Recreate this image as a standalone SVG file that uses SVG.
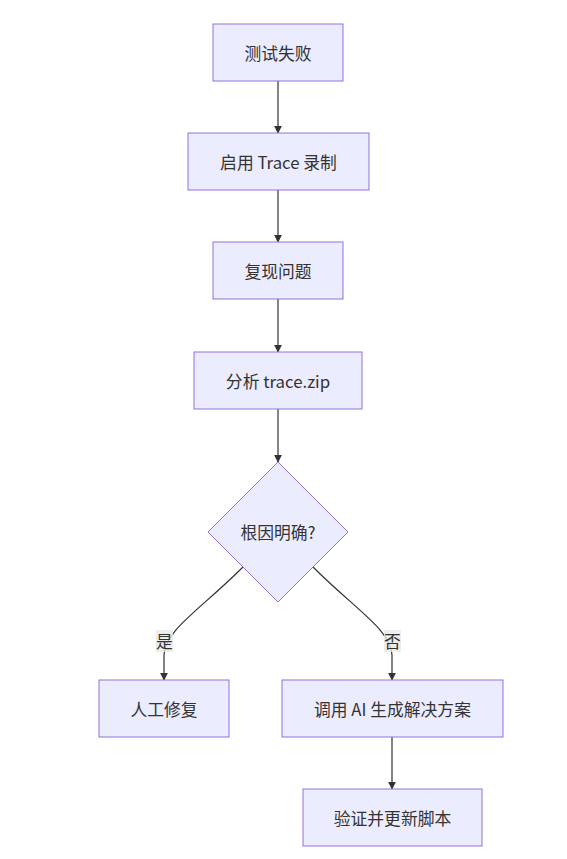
<svg xmlns="http://www.w3.org/2000/svg" width="567" height="859" viewBox="0 0 567 859">
<style>
.node rect,.node polygon{fill:#ECECFF;stroke:#9370DB;stroke-width:1}
.node text,.lbl text{font-family:"Noto Sans CJK SC","Liberation Sans",sans-serif;font-size:16.8px;fill:#333;text-anchor:middle;dominant-baseline:central}
.edge{fill:none;stroke:#333;stroke-width:1.2}
.lbl rect{fill:#e8e8e8;opacity:0.8}
</style>
<defs>
<marker id="arr" viewBox="0 0 10 10" refX="9" refY="5" markerWidth="8" markerHeight="8" markerUnits="userSpaceOnUse" orient="auto">
<path d="M0,0 L10,5 L0,10 z" fill="#333"/>
</marker>
</defs>
<rect width="567" height="859" fill="#fff"/>
<g id="connectors">
<path class="edge" d="M278,81 L278,133" marker-end="url(#arr)"/>
<path class="edge" d="M278,190 L278,242" marker-end="url(#arr)"/>
<path class="edge" d="M278,299 L278,352" marker-end="url(#arr)"/>
<path class="edge" d="M278,409 L278,462" marker-end="url(#arr)"/>
<path class="edge" d="M243,567 C200,610 165,630 164,655 L164,680" marker-end="url(#arr)"/>
<path class="edge" d="M313,567 C356,610 391,630 392,655 L392,680" marker-end="url(#arr)"/>
<path class="edge" d="M392,737 L392,789" marker-end="url(#arr)"/>
<g class="lbl"><rect x="156" y="630" width="17" height="22"/><text x="164.5" y="641">是</text></g>
<g class="lbl"><rect x="384" y="630" width="17" height="22"/><text x="392.5" y="641">否</text></g>
</g>
<g id="n1" class="node"><rect x="213" y="24" width="130" height="57"/><text x="278" y="52.5">测试失败</text></g>
<g id="n2" class="node"><rect x="188" y="133" width="181" height="57"/><text x="278.5" y="161.5">启用 Trace 录制</text></g>
<g id="n3" class="node"><rect x="213" y="242" width="130" height="57"/><text x="278" y="270.5">复现问题</text></g>
<g id="n4" class="node"><rect x="194" y="352" width="168" height="57"/><text x="278" y="380.5">分析 trace.zip</text></g>
<g id="n5" class="node"><polygon points="278,462 348,532 278,602 208,532"/><text x="278" y="532">根因明确?</text></g>
<g id="n6" class="node"><rect x="99" y="680" width="130" height="57"/><text x="164" y="708.5">人工修复</text></g>
<g id="n7" class="node"><rect x="282" y="680" width="221" height="57"/><text x="392.5" y="708.5">调用 AI 生成解决方案</text></g>
<g id="n8" class="node"><rect x="303" y="789" width="179" height="57"/><text x="392.5" y="817.5">验证并更新脚本</text></g>
</svg>
